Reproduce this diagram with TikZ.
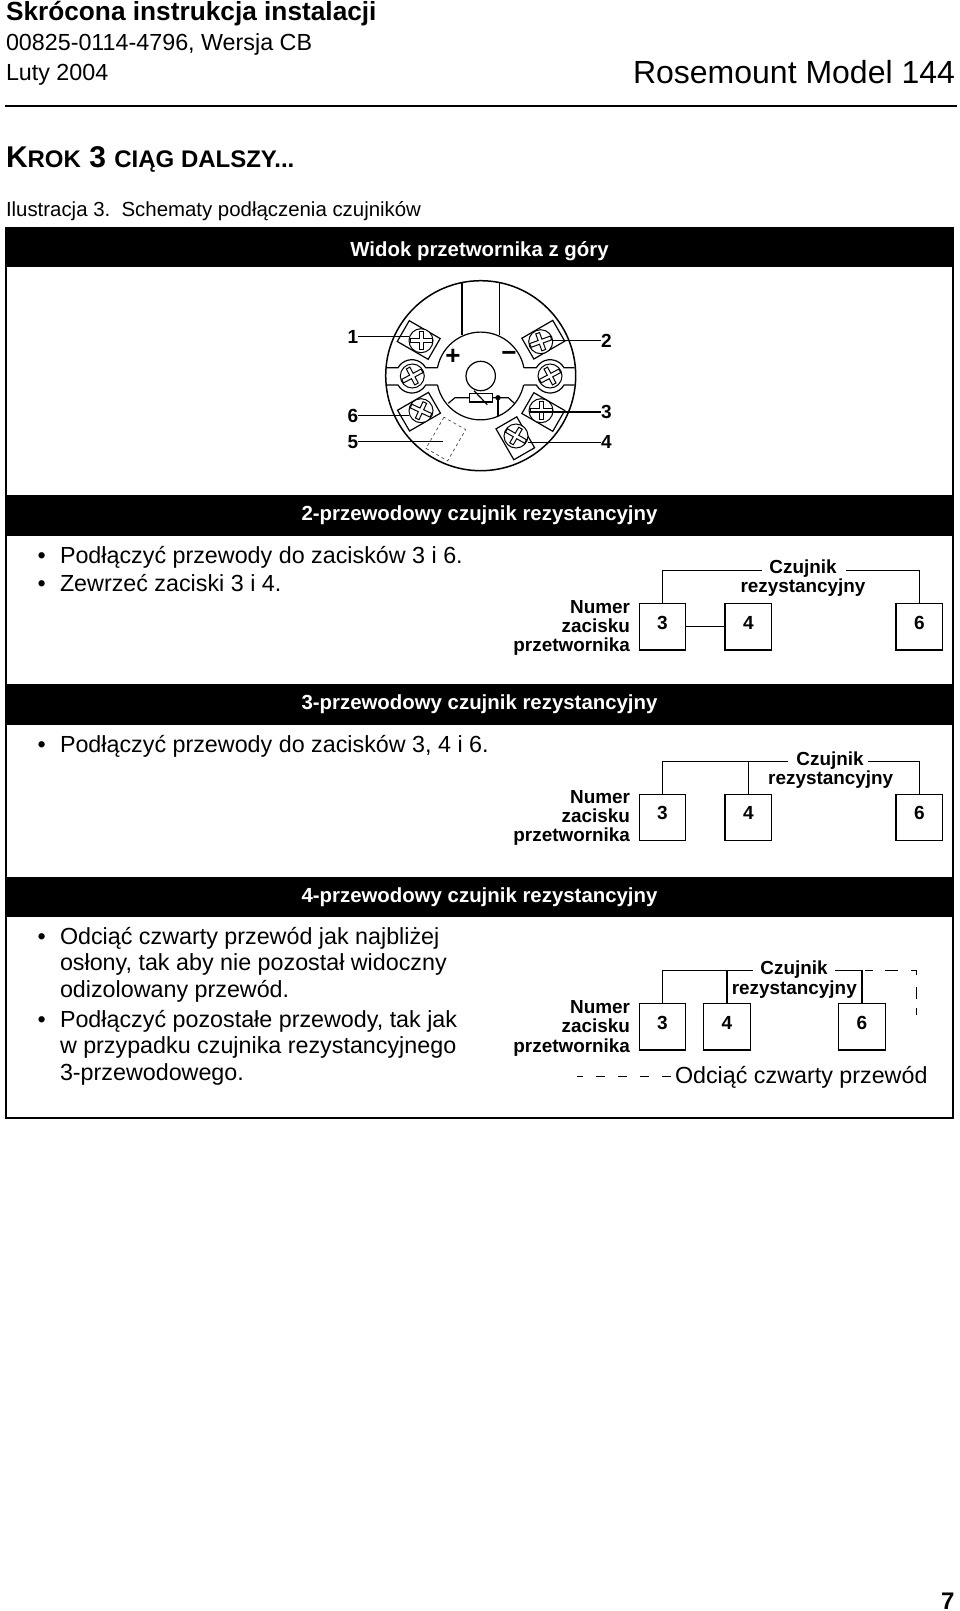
\documentclass[tikz,border=0pt]{standalone}
\usepackage{fontspec}
\setmainfont{Liberation Sans}
\usepackage{tikz}
\usetikzlibrary{positioning}

\newcommand{\fs}[1]{\fontsize{#1pt}{#1pt}\selectfont}

\begin{document}
\begin{tikzpicture}[x=1pt,y=-1pt,thick,line width=1.2pt,
                    every node/.style={inner sep=0pt,outer sep=0pt},
                    head node/.style={anchor=base west,font=\fs{23.3}},
                    band node/.style={fill=black,text=white,minimum width=948pt,minimum height=40.5pt,
                                      font=\fs{20.4}\bfseries,text height=14pt,text depth=3.6pt},
                    body node/.style={anchor=base west,font=\fs{23.3}},
                    dot node/.style={anchor=base,font=\fs{23.3}},
                    term node/.style={draw,minimum size=46.5pt,font=\fs{19}\bfseries,text height=13pt,text depth=8.4pt},
                    small node/.style={font=\fs{18.9}\bfseries},
                    pin node/.style={font=\fs{19}\bfseries},
                    plate node/.style={draw,minimum width=35.7pt,minimum height=24pt},
                    screw node/.style={draw,circle,fill=white,minimum size=24pt,line width=1pt}]

  \useasboundingbox (0,0) rectangle (960,1611);

  \node[head node,font=\fs{26.25}\bfseries] (title) at (6,21) {Skrócona instrukcja instalacji};
  \node[head node] (doc)  at (6,51) {00825-0114-4796, Wersja CB};
  \node[head node] (date) at (6,81) {Luty 2004};
  \node[anchor=base east,font=\fs{32}] (model) at (955,83) {Rosemount Model 144};
  \draw[line width=1.4pt] (5,106) -- (957,106);
  \node[head node,font=\fs{30}\bfseries] (step) at (6,167) {K{\fs{24}ROK} 3 {\fs{24}CIĄG DALSZY...}};
  \node[head node,font=\fs{20.4}] (fig) at (6,216) {Ilustracja 3.\ \ Schematy podłączenia czujników};

  \draw[line width=1.5pt] (6,228) rectangle (953,1118);
  \node[band node,minimum height=39pt,text height=22pt] (b0) at (479.5,247.5) {Widok przetwornika z góry};
  \node[band node] (b2) at (479.5,515.5) {2-przewodowy czujnik rezystancyjny};
  \node[band node] (b3) at (479.5,704.5) {3-przewodowy czujnik rezystancyjny};
  \node[band node] (b4) at (479.5,897) {4-przewodowy czujnik rezystancyjny};

  \draw[line width=1.5pt] (480.7,375.7) circle[radius=95pt];
  \draw (462,282.6) -- (462,335);
  \draw (499.3,282.6) -- (499.3,335);
  \draw (437.5,367.7) arc[start angle=169,end angle=11,radius=44pt];
  \draw (437.5,385) arc[start angle=192,end angle=348,radius=44pt];
  \draw (480.7,376) circle[radius=14.7pt];

  \draw (386.7,367.7) -- (398,367.7) arc[start angle=150,end angle=30,radius=16pt] -- (437.5,367.7);
  \draw (386.7,385) -- (398,385) arc[start angle=210,end angle=330,radius=16pt] -- (437.5,385);
  \draw (574.7,367.7) -- (564,367.7) arc[start angle=30,end angle=150,radius=16pt] -- (523.9,367.7);
  \draw (574.7,385) -- (564,385) arc[start angle=330,end angle=210,radius=16pt] -- (523.9,385);

  \node[plate node,rotate=-30] (p1) at (418.7,340) {};
  \node[plate node,rotate=30]  (p2) at (543.3,339.7) {};
  \node[plate node,rotate=30]  (p6) at (419,411.7) {};
  \node[plate node,rotate=-30] (p3) at (543.3,412) {};
  \node[plate node,rotate=-60] (p4) at (515.3,438.3) {};

  \foreach \n/\x/\y/\rot in {1/421/340.7/0,2/540.7/341.7/20,6/421/410.7/-25,3/541/410.7/0,4/516/436/-30,l/412.3/376/28,r/550/376/28} {
    \node[screw node] (s\n) at (\x,\y) {};
    \draw[line width=1pt,rotate around={\rot:(\x,\y)},shift={(\x,\y)}]
      (-11,-2) -- (-2,-2) -- (-2,-9) -- (2,-9) -- (2,-2) -- (11,-2) -- (11,2) -- (2,2) -- (2,9) -- (-2,9) -- (-2,2) -- (-11,2) -- cycle;
  }

  \node[draw,dashed,line width=.7pt,minimum width=36pt,minimum height=25pt,rotate=60,draw=black!70] (p5) at (445.8,439) {};

  \node[font=\fs{26}\bfseries] (plus) at (453,357) {+};
  \node[font=\fs{26}\bfseries] (minus) at (509,356) {\textminus};

  \node[draw,minimum width=23.4pt,minimum height=8.7pt,fill=white] (res) at (481,397.7) {};
  \draw (448.3,403.3) -- (455,397.7) -- (res.west);
  \draw (res.east) -- (508.3,397.7) -- (514.3,403.3);
  \draw (474,390.7) -- (487.3,404.7);
  \node[draw,circle,fill=black,minimum size=4pt] (junc) at (498,397.7) {};
  \draw (junc) -- (498,416);

  \node[pin node,anchor=east] (l1) at (358.3,336.5) {1};
  \node[pin node,anchor=west] (l2) at (601,340.7) {2};
  \node[pin node,anchor=west] (l3) at (601,412) {3};
  \node[pin node,anchor=west] (l4) at (601,442.3) {4};
  \node[pin node,anchor=east] (l6) at (358.3,415.7) {6};
  \node[pin node,anchor=east] (l5) at (358.3,441.7) {5};
  \coordinate (e5) at (443,441.7);
  \draw (l1.east) -- (l1.east -| s1.west);
  \draw (l2.west) -- (l2.west -| s2.east);
  \draw (l3.west) -- (l3.west -| s3.west);
  \draw (l4.west) -- (l4.west -| s4.east);
  \draw (l6.east) -- (l6.east -| s6.west);
  \draw (l5.east) -- (e5);

  % 2 wire
  \node[dot node] (d21) at (41.7,563) {•};
  \node[body node] (t21) at (60,563) {Podłączyć przewody do zacisków 3 i 6.};
  \node[dot node] (d22) at (41.7,591.5) {•};
  \node[body node] (t22) at (60,591.5) {Zewrzeć zaciski 3 i 4.};
  \node[term node] (a3) at (662.5,626.7) {3};
  \node[term node] (a4) at (748.3,626.7) {4};
  \node[term node] (a6) at (919.3,626.7) {6};
  \node[small node,anchor=base] (as1) at (803,573) {Czujnik};
  \node[small node,anchor=base] (as2) at (803,592) {rezystancyjny};
  \node[small node,anchor=base east] (an1) at (630,613.3) {Numer};
  \node[small node,anchor=base east] (an2) at (630,632.5) {zacisku};
  \node[small node,anchor=base east] (an3) at (630,651.3) {przetwornika};
  \coordinate (al) at (761.7,570.7);
  \coordinate (ar) at (845.7,570.7);
  \draw (a3) -- (a4);
  \draw (a3.north) |- (al);
  \draw (a6.north) |- (ar);

  % 3 wire
  \node[dot node] (d31) at (41.7,752) {•};
  \node[body node] (t31) at (60,752) {Podłączyć przewody do zacisków 3, 4 i 6.};
  \node[term node] (c3) at (662.5,817.4) {3};
  \node[term node] (c4) at (748.3,817.4) {4};
  \node[term node] (c6) at (919.3,817.4) {6};
  \node[small node,anchor=base] (cs1) at (830,765) {Czujnik};
  \node[small node,anchor=base] (cs2) at (830.7,784.5) {rezystancyjny};
  \node[small node,anchor=base east] (cn1) at (630,803.3) {Numer};
  \node[small node,anchor=base east] (cn2) at (630,822) {zacisku};
  \node[small node,anchor=base east] (cn3) at (630,841) {przetwornika};
  \coordinate (cl) at (788,761.3);
  \coordinate (cr) at (868,761.3);
  \draw (c3.north) |- (cl);
  \draw (c4.north) -- (c4.north |- cl);
  \draw (c6.north) |- (cr);

  % 4 wire
  \node[dot node] (d41) at (41.7,944) {•};
  \node[body node] (t41) at (60,944) {Odciąć czwarty przewód jak najbliżej};
  \node[body node] (t42) at (60,970.5) {osłony, tak aby nie pozostał widoczny};
  \node[body node] (t43) at (60,997) {odizolowany przewód.};
  \node[dot node] (d42) at (41.7,1027) {•};
  \node[body node] (t44) at (60,1027) {Podłączyć pozostałe przewody, tak jak};
  \node[body node] (t45) at (60,1053.5) {w przypadku czujnika rezystancyjnego};
  \node[body node] (t46) at (60,1080) {3-przewodowego.};
  \node[term node] (e3) at (662.5,1026.7) {3};
  \node[term node] (e4) at (727,1026.7) {4};
  \node[term node] (e6) at (862,1026.7) {6};
  \node[small node,anchor=base] (es1) at (794,974) {Czujnik};
  \node[small node,anchor=base] (es2) at (794.3,994) {rezystancyjny};
  \node[small node,anchor=base east] (en1) at (630,1013.3) {Numer};
  \node[small node,anchor=base east] (en2) at (630,1032.7) {zacisku};
  \node[small node,anchor=base east] (en3) at (630,1052) {przetwornika};
  \node[body node] (cut) at (675,1083) {Odciąć czwarty przewód};
  \coordinate (el) at (753,970.7);
  \coordinate (er) at (835,970.7);
  \coordinate (ds) at (865,970.7);
  \coordinate (dc) at (916.7,970.7);
  \coordinate (de) at (916.7,1015);
  \coordinate (cs) at (576.7,1076.7);
  \draw (e3.north) |- (el);
  \draw (e4.north) -- (e4.north |- el);
  \draw (e6.north) |- (er);
  \draw[dash pattern=on 8pt off 12pt on 13pt off 13pt on 10pt off 12pt on 12pt off 9pt on 7pt] (ds) -- (dc) -- (de);
  \draw[dash pattern=on 8.5pt off 13.5pt,dash phase=2.5pt] (cs) -- (cut.west |- cs);

  \node[anchor=base east,font=\fs{24}\bfseries] (page) at (954.5,1609) {7};

\end{tikzpicture}
\end{document}
